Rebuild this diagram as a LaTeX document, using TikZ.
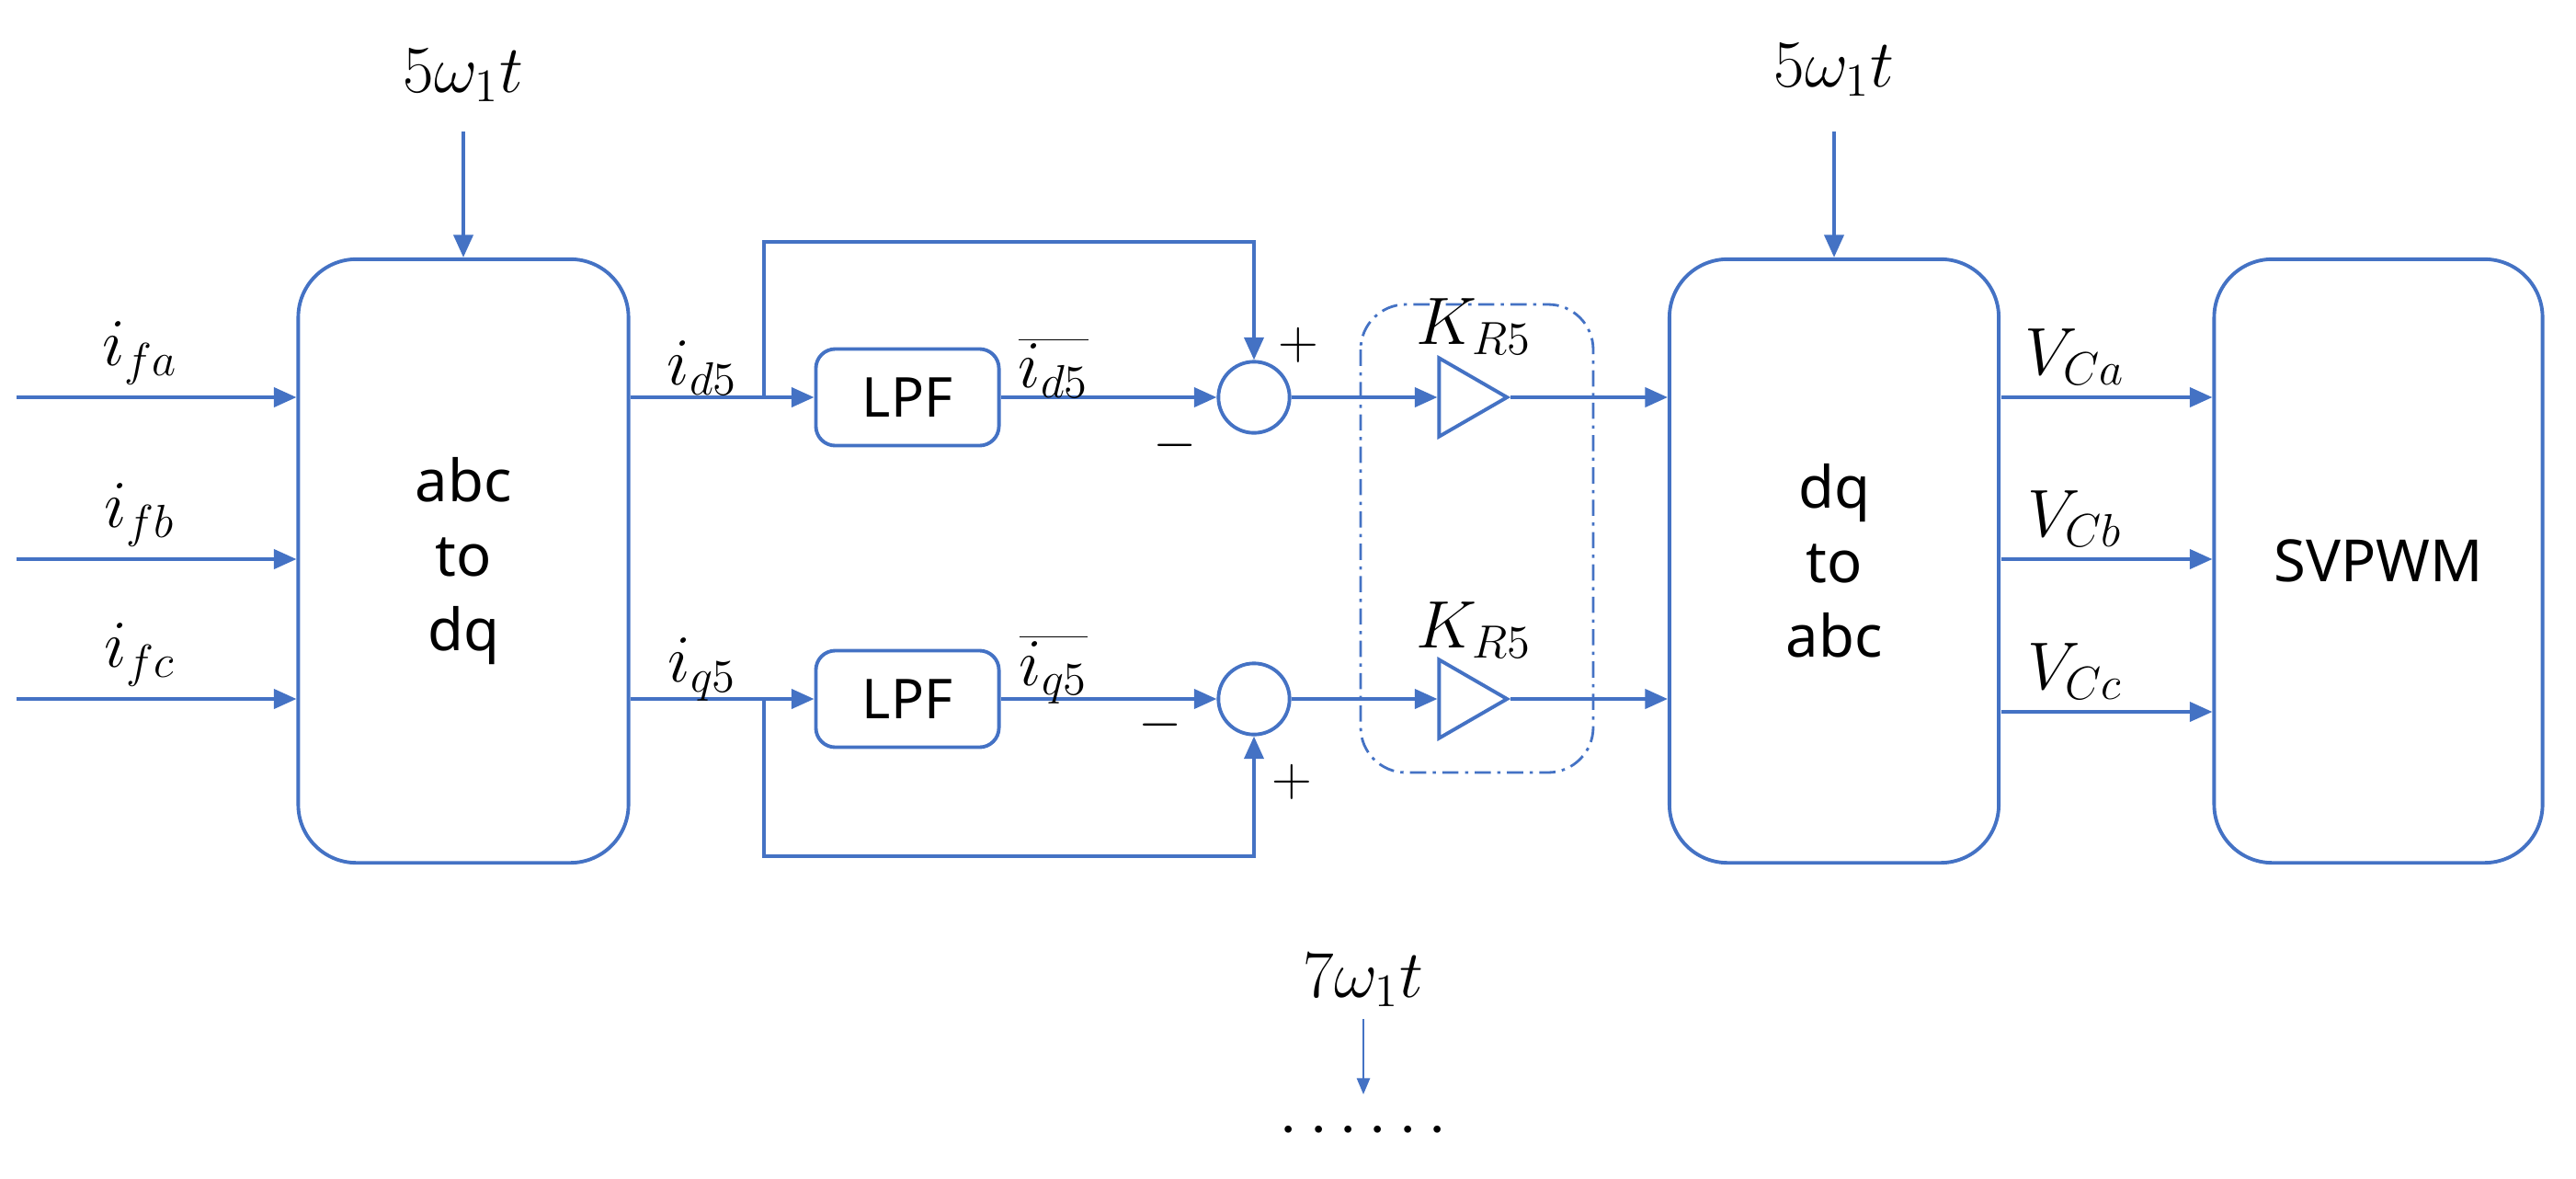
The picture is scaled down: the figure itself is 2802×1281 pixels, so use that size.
\documentclass[tikz,border=0pt]{standalone}
\usepackage{fontspec}
\setmainfont{Noto Sans}
\usetikzlibrary{arrows.meta,shapes.geometric}
\definecolor{bl}{RGB}{68,114,196}
\begin{document}
\begin{tikzpicture}[x=0.01cm,y=-0.01cm,
  ln/.style={draw=bl,line width=1.1pt},
  ar/.style={ln,-{Triangle[length=7pt,width=6pt]}},
  blk/.style={draw=bl,line width=1.1pt,rounded corners=18pt,inner sep=0pt,align=center,font=\fontsize{18}{23}\selectfont},
  sm/.style={draw=bl,line width=1.1pt,rounded corners=6pt,inner sep=0pt,font=\fontsize{17}{20}\selectfont},
  lb/.style={font=\fontsize{18}{20}\selectfont},
  mb/.style={font=\fontsize{21}{22}\selectfont},
  sum/.style={draw=bl,line width=1.1pt,circle,minimum size=22pt,inner sep=0pt},
  gain/.style={draw=bl,line width=1.1pt,isosceles triangle,isosceles triangle apex angle=60,minimum height=21pt,inner sep=0pt}]
\useasboundingbox (0,0) rectangle (2802,1281);
% blocks
\node[blk,minimum width=3.59cm,minimum height=6.56cm] (abc) at (504,610) {abc\\to\\dq};
\node[blk,minimum width=3.58cm,minimum height=6.56cm] (dq) at (1995,610) {dq\\to\\abc};
\node[blk,minimum width=3.57cm,minimum height=6.56cm] (sv) at (2587,610) {SVPWM};
\node[sm,minimum width=1.99cm,minimum height=1.05cm] (lpf1) at (987,432) {LPF};
\node[sm,minimum width=1.99cm,minimum height=1.05cm] (lpf2) at (987,760) {LPF};
\node[sum] (s1) at (1364,432) {};
\node[sum] (s2) at (1364,760) {};
\node[gain] (g1) at (1590,432) {};
\node[gain] (g2) at (1590,760) {};
\draw[bl,line width=0.8pt,dash pattern=on 5pt off 2pt on 1pt off 2pt,rounded corners=14pt] (1480,331) rectangle (1733,840);
% top labels
\node[mb] (w1) at (504,82) {$5\omega_1 t$};
\node[mb] (w2) at (1995,76) {$5\omega_1 t$};
\coordinate (w1s) at (504,143);
\coordinate (w2s) at (1995,143);
\draw[ar] (w1s) -- (abc.north);
\draw[ar] (w2s) -- (dq.north);
% inputs
\foreach \y/\n/\s in {432/a/fa,608/b/fb,760/c/fc}{
  \coordinate (in\n) at (18,\y);
  \draw[ar] (in\n) -- (abc.west |- in\n);
  \node[mb] at (152,\y-48) {$i_{\s}$};
}
% d path
\coordinate (bd) at (831,432);
\draw[ln] (abc.east |- bd) -- (bd);
\draw[ar] (bd) -- (lpf1.west);
\draw[ar] (bd) |- (1364,263) -- (s1.north);
\draw[ar] (lpf1.east) -- (s1.west);
\draw[ar] (s1.east) -- (g1.west);
\draw[ar] (g1.east) -- (dq.west |- g1.east);
\coordinate (bq) at (831,760);
\draw[ln] (abc.east |- bq) -- (bq);
\draw[ar] (bq) -- (lpf2.west);
\draw[ar] (bq) |- (1364,931) -- (s2.south);
\draw[ar] (lpf2.east) -- (s2.west);
\draw[ar] (s2.east) -- (g2.west);
\draw[ar] (g2.east) -- (dq.west |- g2.east);
\node[mb] at (764,400) {$i_{d5}$};
\node[mb] at (764,728) {$i_{q5}$};
\node[mb] at (1146,400) {$\overline{i_{d5}}$};
\node[mb] at (1146,728) {$\overline{i_{q5}}$};
\node[lb] at (1412,375) {$+$};
\node[lb] at (1278,484) {$-$};
\node[lb] at (1262,788) {$-$};
\node[lb] at (1405,850) {$+$};
\node[mb] at (1603,355) {$K_{R5}$};
\node[mb] at (1603,685) {$K_{R5}$};
% outputs
\foreach \y/\s in {432/Ca,608/Cb,774/Cc}{
  \coordinate (o\s) at (2177,\y);
  \draw[ar] (o\s) -- (sv.west |- o\s);
  \node[mb] at (2257,\y-44) {$V_{\s}$};
}
% 7w1t
\node[mb] (w7) at (1483,1066) {$7\omega_1 t$};
\coordinate (a7) at (1483,1108);
\coordinate (b7) at (1483,1190);
\draw[bl,line width=0.7pt,-{Triangle[length=5pt,width=4pt]}] (a7) -- (b7);
\node[mb] at (1483,1230) {$\cdots\cdots$};
\end{tikzpicture}
\end{document}
